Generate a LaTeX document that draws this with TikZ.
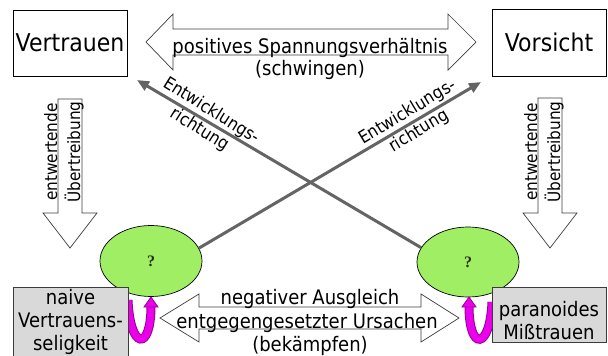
\documentclass[tikz,border=0pt]{standalone}
\usepackage{fontspec}
\setmainfont{DejaVu Sans}[FakeStretch=0.9]
\newfontfamily\qfont{Liberation Serif}
\usetikzlibrary{arrows.meta,shapes.geometric}

\definecolor{edgegrey}{RGB}{60,60,60}
\definecolor{diaggrey}{RGB}{100,100,100}
\definecolor{boxgrey}{RGB}{217,217,217}
\definecolor{leaf}{RGB}{160,238,100}
\definecolor{mag}{RGB}{235,0,235}
\definecolor{magedge}{RGB}{150,0,150}
\definecolor{qmark}{RGB}{45,45,25}

\begin{document}
\begin{tikzpicture}[x=1pt,y=-1pt,
  topbox/.style={draw=black, line width=0.8pt, fill=white, inner sep=0pt,
    minimum width=114pt, minimum height=66pt, font=\fontsize{24.5}{29}\selectfont},
  lowbox/.style={draw=edgegrey, line width=0.8pt, fill=boxgrey, inner sep=0pt},
  lowtext/.style={align=center, inner sep=0pt, font=\fontsize{20}{23}\selectfont},
  blockarrow/.style={draw=edgegrey, line width=0.7pt, fill=white},
  arrowtext/.style={anchor=base, inner sep=0pt, font=\fontsize{20}{24}\selectfont},
  sidetext/.style={anchor=base, rotate=90, inner sep=0pt, font=\fontsize{17}{20}\selectfont},
  state/.style={ellipse, draw=black, line width=0.7pt, fill=leaf, inner sep=0pt,
    minimum width=102pt, minimum height=71pt, font=\qfont\bfseries\fontsize{16}{18}\selectfont, text=qmark},
  devline/.style={draw=diaggrey, line width=3pt, -{Triangle[length=12pt,width=10pt]}},
  devlabel/.style={align=center, inner sep=0pt, font=\fontsize{17.5}{22}\selectfont},
  loopband/.style={line width=#1, line cap=butt},
  loophead/.style={fill=mag, draw=magedge, line width=0.8pt, line join=miter}
]
\useasboundingbox (0,0) rectangle (608,356);
\clip (0,0) rectangle (608,356);
\fill[white] (0,0) rectangle (608,356);

% top boxes
\node[topbox] (trust) at (70,43) {Vertrauen};
\node[topbox, minimum height=67pt] (care) at (549,42.5) {Vorsicht};

% double block arrow between the top boxes
\draw[blockarrow] (146,42) -- (173,14) -- (173,29) -- (448,29) -- (448,14) -- (476,42)
  -- (448,70) -- (448,55) -- (173,55) -- (173,70) -- cycle;
\node[arrowtext] (posA) at (310,53) {positives Spannungsverhältnis};
\node[arrowtext] (posB) at (310,75) {(schwingen)};

% downward block arrows
\draw[blockarrow] (58,99) -- (82,99) -- (82,213) -- (97,213) -- (70,248) -- (43,213) -- (58,213) -- cycle;
\draw[blockarrow] (538,98) -- (562,98) -- (562,213) -- (577,213) -- (550,248) -- (523,213) -- (538,213) -- cycle;
\node[sidetext] (devalL) at (57,152) {entwertende};
\node[sidetext] (exagL) at (80,152) {Übertreibung};
\node[sidetext] (devalR) at (537,152) {entwertende};
\node[sidetext] (exagR) at (560,152) {Übertreibung};

% double block arrow between the lower boxes
\draw[blockarrow] (160,318) -- (199,294) -- (199,307) -- (421,307) -- (421,294) -- (459,318)
  -- (421,342) -- (421,329) -- (199,329) -- (199,342) -- cycle;
\node[arrowtext] (negA) at (310,304) {negativer Ausgleich};
\node[arrowtext] (negB) at (307,328) {entgegengesetzter Ursachen};
\node[arrowtext] (negC) at (310,351) {(bekämpfen)};

% the two states
\node[state] (elL) at (151,261) {?};
\node[state, minimum height=70pt] (elR) at (468,262) {?};

% development directions
\coordinate (tipL) at (137,80);
\coordinate (tipR) at (481,82);
\draw[devline] (elR.163) -- node[devlabel, pos=0.76, rotate=-32] {Entwicklungs-\\richtung} (tipL);
\draw[devline] (elL.15) -- node[devlabel, pos=0.76, rotate=31] {Entwicklungs-\\richtung} (tipR);

% curved magenta arrows back into the states
\draw[magedge, loopband=9pt] (128,300) .. controls (130,350) and (151,352) .. (151,306);
\draw[mag, loopband=7pt] (128,300) .. controls (130,350) and (151,352) .. (151,306);
\filldraw[loophead] (151,297) -- (158,307) -- (144,307) -- cycle;
\draw[magedge, loopband=9pt] (492,302) .. controls (490,350) and (469,352) .. (469,306);
\draw[mag, loopband=7pt] (492,302) .. controls (490,350) and (469,352) .. (469,306);
\filldraw[loophead] (469,297) -- (476,307) -- (462,307) -- cycle;

% lower boxes
\node[lowbox, minimum width=115pt, minimum height=75pt] (naive) at (70.5,324.5) {};
\node[lowtext] (naivetext) at (70.5,321.8) {naive\\Vertrauens-\\seligkeit};
\node[lowbox, minimum width=114pt, minimum height=55pt] (para) at (549,314.5) {};
\node[lowtext] (paratext) at (549,321) {paranoides\\Mißtrauen};
\end{tikzpicture}
\end{document}
